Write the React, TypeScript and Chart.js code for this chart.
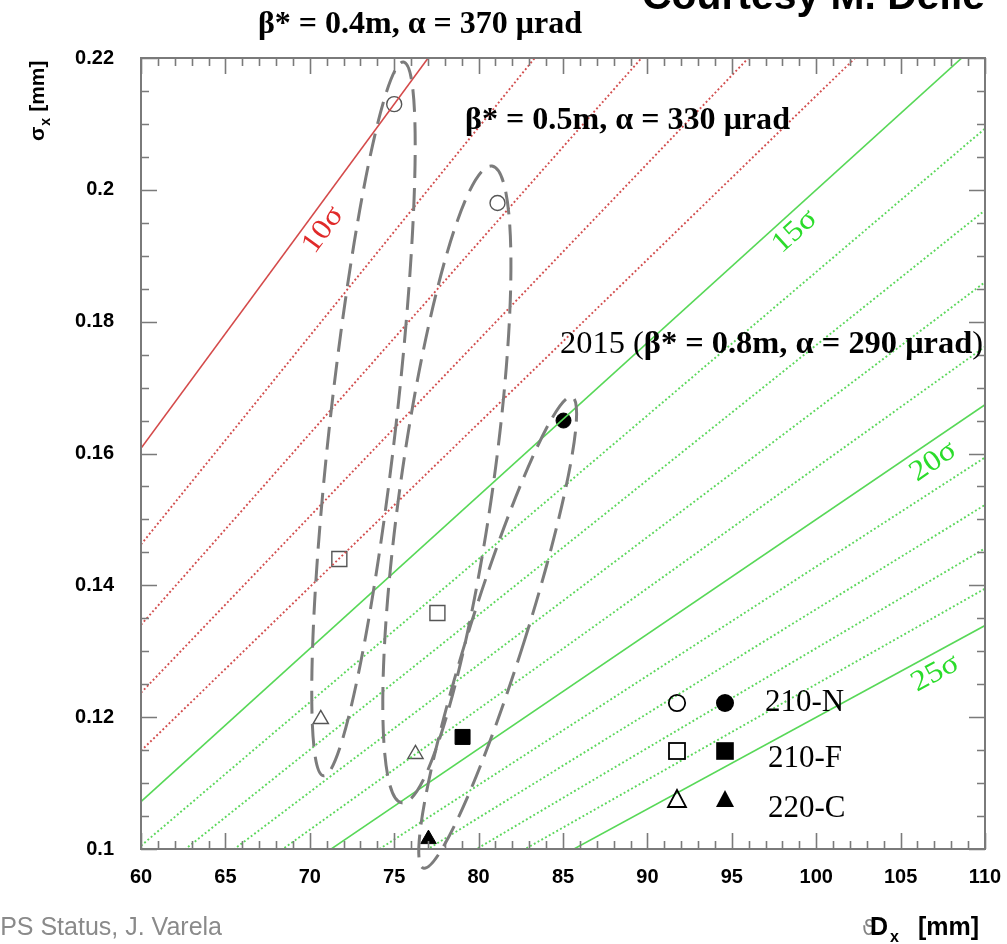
import React, { useEffect, useRef } from 'react';
import { Chart, registerables } from 'chart.js';

Chart.register(...registerables);

// ---------- data ----------
const xMin = 60;
const xMax = 110;
const xStep = 5;
const yMin = 0.1;
const yMax = 0.22;
const yStep = 0.02;

// n-sigma lines: sigma_x value read at D_x = 60 mm and D_x = 110 mm
const sigmaLevels = [10, 11, 12, 13, 14, 15, 16, 17, 18, 19, 20, 21, 22, 23, 24, 25];
const lineEdgeD = [60, 110];
const sigmaAtD60 = [0.1608, 0.1462, 0.134, 0.1237, 0.1149, 0.1072, 0.1005, 0.0946, 0.0893, 0.0846, 0.0804, 0.0766, 0.0731, 0.0699, 0.067, 0.0643];
const sigmaAtD110 = [0.3348, 0.3044, 0.279, 0.2575, 0.2391, 0.2232, 0.2093, 0.1969, 0.186, 0.1762, 0.1674, 0.1594, 0.1522, 0.1456, 0.1395, 0.1339];

// labels on the solid lines
const labeledLevels = [10, 15, 20, 25];
const labelTexts = ['10σ', '15σ', '20σ', '25σ'];
const labelD = [70.8, 98.74, 106.94, 107.05];
const labelS = [0.1939, 0.19365, 0.15876, 0.12666];

// stations (legend entries)
const stations = ['210-N', '210-F', '220-C'];

// optics configurations
const opticsLabels = ['β* = 0.4m, α = 370 μrad', 'β* = 0.5m, α = 330 μrad', 'β* = 0.8m, α = 290 μrad'];
const dx04 = [75.0, 71.75, 70.65];
const sx04 = [0.213, 0.144, 0.1197];
const dx05 = [81.12, 77.56, 76.26];
const sx05 = [0.198, 0.1358, 0.1144];
const dx08 = [85.03, 79.05, 77.03];
const sx08 = [0.165, 0.117, 0.1015];

// dashed ellipses around each optics group (end points of the long axis)
const ellipseTopD = [75.55, 80.79, 85.53];
const ellipseTopS = [0.2194, 0.2036, 0.1686];
const ellipseBottomD = [70.81, 75.45, 76.73];
const ellipseBottomS = [0.1111, 0.107, 0.0971];

// ---------- styles ----------
const ellipseHalfWidthPx = [33, 46, 28];
const markerStyles = ['circle', 'rect', 'triangle'];
const markerRadiiOpen = [7.5, 10.6, 8.8];
const markerRadiiFilled = [7.5, 10.6, 9];
const SERIF = '"Liberation Serif", "Times New Roman", serif';
const SANS = '"Liberation Sans", Arial, Helvetica, sans-serif';

function lineColor(n: number) {
  const solid = n % 5 === 0;
  if (n < 15) return solid ? '#d44a4a' : '#d24e4e';
  return solid ? '#58d858' : '#5cd75c';
}

const lineDatasets = sigmaLevels.map((n, i) => {
  const solid = n % 5 === 0;
  return {
    label: `${n}σ`,
    data: [
      { x: lineEdgeD[0], y: sigmaAtD60[i] },
      { x: lineEdgeD[1], y: sigmaAtD110[i] },
    ],
    showLine: true,
    borderColor: lineColor(n),
    borderWidth: solid ? 1.6 : 1.9,
    borderDash: solid ? [] : [1.9, 2.4],
    pointRadius: 0,
    fill: false,
  };
});

function pointsDataset(label: string, dx: number[], sx: number[], filled: boolean) {
  return {
    label,
    data: dx.map((d, i) => ({ x: d, y: sx[i] })),
    showLine: false,
    pointStyle: markerStyles,
    pointRadius: filled ? markerRadiiFilled : markerRadiiOpen,
    pointBackgroundColor: filled ? '#000' : 'rgba(0,0,0,0)',
    pointBorderColor: filled ? '#000' : '#555',
    pointBorderWidth: filled ? 1 : 1.4,
  };
}

function fitText(ctx: CanvasRenderingContext2D, parts: { t: string; f: string }[], x: number, baseline: number, target: number) {
  let total = 0;
  const widths = parts.map((p) => {
    ctx.font = p.f;
    const w = ctx.measureText(p.t).width;
    total += w;
    return w;
  });
  const s = target / total;
  ctx.save();
  ctx.translate(x, baseline);
  ctx.scale(s, 1);
  let cx = 0;
  parts.forEach((p, i) => {
    ctx.font = p.f;
    ctx.fillText(p.t, cx, 0);
    cx += widths[i];
  });
  ctx.restore();
}

const overlayPlugin = {
  id: 'overlay',
  afterDatasetsDraw(chart: any) {
    const { ctx, chartArea: ca, scales } = chart;
    const xs = scales.x;
    const ys = scales.y;

    // dashed ellipses
    ctx.save();
    ctx.strokeStyle = '#7c7c7c';
    ctx.lineWidth = 3;
    ctx.setLineDash([23, 10]);
    for (let i = 0; i < ellipseTopD.length; i++) {
      const x1 = xs.getPixelForValue(ellipseTopD[i]);
      const y1 = ys.getPixelForValue(ellipseTopS[i]);
      const x2 = xs.getPixelForValue(ellipseBottomD[i]);
      const y2 = ys.getPixelForValue(ellipseBottomS[i]);
      const cx = (x1 + x2) / 2;
      const cy = (y1 + y2) / 2;
      const a = Math.hypot(x2 - x1, y2 - y1) / 2;
      const rot = Math.atan2(y2 - y1, x2 - x1);
      ctx.beginPath();
      ctx.ellipse(cx, cy, a, ellipseHalfWidthPx[i], rot, -Math.PI / 2, Math.PI * 1.5);
      ctx.stroke();
    }
    ctx.restore();

    // line labels
    labeledLevels.forEach((n, k) => {
      const i = sigmaLevels.indexOf(n);
      const p1x = xs.getPixelForValue(lineEdgeD[0]);
      const p1y = ys.getPixelForValue(sigmaAtD60[i]);
      const p2x = xs.getPixelForValue(lineEdgeD[1]);
      const p2y = ys.getPixelForValue(sigmaAtD110[i]);
      const ang = Math.atan2(p2y - p1y, p2x - p1x);
      const lx = xs.getPixelForValue(labelD[k]);
      const ly = ys.getPixelForValue(labelS[k]);
      ctx.save();
      ctx.translate(lx, ly);
      ctx.rotate(ang);
      ctx.scale(1.12, 1);
      ctx.font = `29px ${SERIF}`;
      ctx.fillStyle = n < 15 ? '#e02a2a' : '#2bdc2b';
      ctx.textAlign = 'center';
      ctx.textBaseline = 'middle';
      ctx.fillText(labelTexts[k], 0, 0);
      ctx.restore();
    });

    // frame + inner ticks
    ctx.save();
    ctx.strokeStyle = '#7a7a7a';
    ctx.lineWidth = 1.6;
    ctx.beginPath();
    for (let v = xMin; v <= xMax + 1e-9; v += 1) {
      const px = Math.round(xs.getPixelForValue(v)) + 0.5;
      const len = Math.abs(v % xStep) < 1e-9 ? 16 : 8;
      ctx.moveTo(px, ca.bottom);
      ctx.lineTo(px, ca.bottom - len);
      ctx.moveTo(px, ca.top);
      ctx.lineTo(px, ca.top + len);
    }
    for (let k = 0; k <= 24; k++) {
      const v = yMin + k * 0.005;
      const py = Math.round(ys.getPixelForValue(v)) + 0.5;
      const len = k % 4 === 0 ? 16 : 8;
      ctx.moveTo(ca.left, py);
      ctx.lineTo(ca.left + len, py);
      ctx.moveTo(ca.right, py);
      ctx.lineTo(ca.right - len, py);
    }
    ctx.stroke();
    ctx.lineWidth = 2;
    ctx.strokeRect(ca.left, ca.top, ca.right - ca.left, ca.bottom - ca.top);
    ctx.restore();

    // optics annotations
    ctx.save();
    ctx.fillStyle = '#000';
    ctx.textBaseline = 'alphabetic';
    const bold = `bold 32px ${SERIF}`;
    const reg = `32px ${SERIF}`;
    fitText(ctx, [{ t: opticsLabels[0], f: bold }], 258, 33, 324);
    fitText(ctx, [{ t: opticsLabels[1], f: bold }], 465, 129, 325);
    fitText(ctx, [{ t: '2015 (', f: reg }, { t: opticsLabels[2], f: bold }, { t: ')', f: reg }], 560, 353, 423);
    // courtesy
    fitText(ctx, [{ t: 'Courtesy M. Deile', f: `bold 40px ${SANS}` }], 642, 9, 343);
    ctx.restore();

    // legend
    ctx.save();
    const rowsY = [703, 751, 799];
    const textBase = [711, 767, 817];
    const textX = [765, 768, 768];
    const openX = 677;
    const fillX = 725;
    ctx.strokeStyle = '#000';
    ctx.fillStyle = '#000';
    ctx.lineWidth = 1.8;
    ctx.beginPath();
    ctx.arc(openX, rowsY[0], 8.2, 0, Math.PI * 2);
    ctx.stroke();
    ctx.beginPath();
    ctx.arc(fillX, rowsY[0], 9, 0, Math.PI * 2);
    ctx.fill();
    ctx.strokeRect(openX - 8, rowsY[1] - 8, 16, 16);
    ctx.fillRect(fillX - 8.8, rowsY[1] - 8.8, 17.6, 17.6);
    const tri = (cx: number, cy: number, filled: boolean) => {
      ctx.beginPath();
      ctx.moveTo(cx, cy - 9);
      ctx.lineTo(cx + 9, cy + 8);
      ctx.lineTo(cx - 9, cy + 8);
      ctx.closePath();
      if (filled) ctx.fill();
      else ctx.stroke();
    };
    tri(openX, rowsY[2], false);
    tri(fillX, rowsY[2], true);
    ctx.font = `31px ${SERIF}`;
    stations.forEach((s, i) => ctx.fillText(s, textX[i], textBase[i]));
    ctx.restore();

    // axis titles
    ctx.save();
    ctx.fillStyle = 'rgba(90,90,90,0.75)';
    ctx.font = `22px "DejaVu Sans", sans-serif`;
    ctx.fillText('ϑ', 862, 935);
    ctx.fillStyle = '#000';
    ctx.font = `bold 25px ${SANS}`;
    ctx.fillText('D', 870, 935);
    ctx.font = `bold 16px ${SANS}`;
    ctx.fillText('x', 890, 942);
    ctx.font = `bold 25px ${SANS}`;
    ctx.fillText('[mm]', 918, 935);

    ctx.translate(44, 141);
    ctx.rotate(-Math.PI / 2);
    ctx.font = `bold 21px ${SANS}`;
    ctx.fillText('σ', 0, 0);
    const sw = ctx.measureText('σ').width;
    ctx.font = `bold 14px ${SANS}`;
    ctx.fillText('x', sw + 1, 6);
    const xw = ctx.measureText('x').width;
    ctx.font = `bold 21px ${SANS}`;
    ctx.fillText('[mm]', sw + xw + 7, 0);
    ctx.restore();

    // footer
    ctx.save();
    ctx.fillStyle = '#8a8a8a';
    ctx.font = `25px ${SANS}`;
    ctx.textAlign = 'right';
    ctx.fillText('CT-PPS Status, J. Varela', 222, 935);
    ctx.restore();
  },
};

export default function App() {
  const ref = useRef<HTMLCanvasElement>(null);

  useEffect(() => {
    const canvas = ref.current;
    if (!canvas) return;
    const chart = new Chart(canvas, {
      type: 'scatter',
      data: {
        datasets: [
          ...lineDatasets,
          pointsDataset(opticsLabels[0], dx04, sx04, false),
          pointsDataset(opticsLabels[1], dx05, sx05, false),
          pointsDataset(opticsLabels[2], dx08, sx08, true),
        ] as any,
      },
      options: {
        responsive: false,
        maintainAspectRatio: false,
        devicePixelRatio: 1,
        animation: false,
        events: [],
        layout: { padding: { top: 58, right: 22, left: 0, bottom: 0 } },
        plugins: {
          legend: { display: false },
          tooltip: { enabled: false },
          title: { display: false },
        },
        scales: {
          x: {
            type: 'linear',
            position: 'bottom',
            min: xMin,
            max: xMax,
            grid: { display: false, drawTicks: false },
            border: { display: false },
            ticks: {
              stepSize: xStep,
              padding: 16,
              color: '#000',
              font: { family: SANS, size: 20, weight: 'bold' },
              maxRotation: 0,
              autoSkip: false,
            },
            afterFit: (scale: any) => {
              scale.height = 95;
              scale.paddingLeft = 0;
              scale.paddingRight = 0;
            },
          },
          y: {
            type: 'linear',
            position: 'left',
            min: yMin,
            max: yMax,
            grid: { display: false, drawTicks: false },
            border: { display: false },
            ticks: {
              stepSize: yStep,
              padding: 27,
              color: '#000',
              font: { family: SANS, size: 20, weight: 'bold' },
              autoSkip: false,
              callback: (v: any) => String(Number(Number(v).toFixed(3))),
            },
            afterFit: (scale: any) => {
              scale.width = 141;
              scale.paddingTop = 0;
              scale.paddingBottom = 0;
            },
          },
        },
      } as any,
      plugins: [overlayPlugin],
    });
    return () => chart.destroy();
  }, []);

  return (
    <div style={{ position: 'absolute', left: 0, top: 0, width: 1007, height: 944, background: '#fff', overflow: 'hidden' }}>
      <canvas ref={ref} width={1007} height={944} style={{ display: 'block', width: 1007, height: 944 }} />
    </div>
  );
}
